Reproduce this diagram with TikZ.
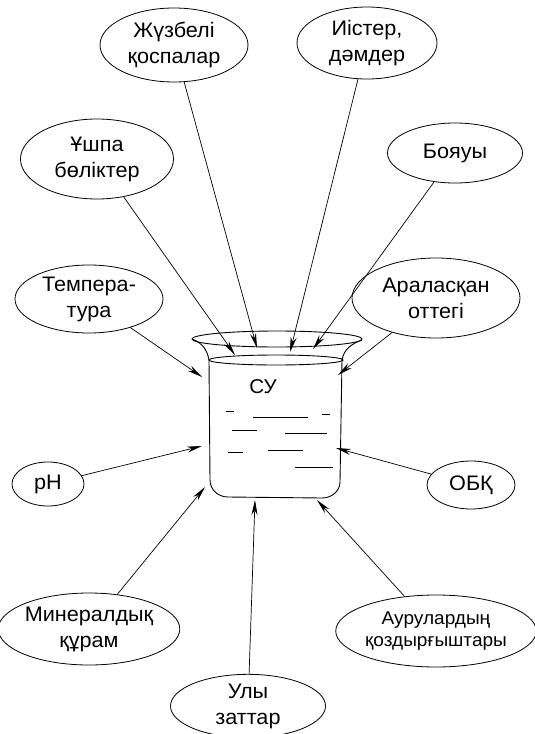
\documentclass[tikz,border=0pt]{standalone}
\usepackage{fontspec}
\setmainfont{Liberation Sans}[FakeStretch=1.03]
\usetikzlibrary{arrows.meta,shapes.geometric}
\tikzset{
  factor/.style={ellipse, draw, line width=0.8pt, inner sep=0pt, align=center, font=\fontsize{21}{26}\selectfont},
  glass/.style={line width=0.9pt},
  wave/.style={line width=1pt},
  arr/.style={-{Stealth[length=15pt,width=6pt]}, line width=0.7pt},
}
\begin{document}
\begin{tikzpicture}[x=1pt,y=-1pt]
  \useasboundingbox (0,0) rectangle (535,734);
  % factors around the beaker
  \node[factor, minimum width=148pt, minimum height=74pt] (juz) at (174,45) {Жүзбелі\\қоспалар};
  \node[factor, minimum width=140pt, minimum height=72pt] (iis) at (367,43) {Иістер,\\дәмдер};
  \node[factor, minimum width=153pt, minimum height=80pt] (ush) at (97,159) {Ұшпа\\бөліктер};
  \node[factor, minimum width=135pt, minimum height=60pt] (boy) at (455,153) {Бояуы};
  \node[factor, minimum width=148pt, minimum height=68pt] (tem) at (89,299) {Темпера-\\тура};
  \node[factor, minimum width=168pt, minimum height=80pt] (ott) at (436,298) {Араласқан\\оттегі};
  \node[factor, minimum width=72pt, minimum height=44pt] (ph) at (48,484) {pH};
  \node[factor, minimum width=88pt, minimum height=48pt] (obk) at (471,485) {ОБҚ};
  \node[factor, minimum width=162pt, minimum height=72pt] (min) at (89,629) {Минералдық\\құрам};
  \node[factor, minimum width=158pt, minimum height=72pt, font=\fontsize{18.5}{22}\selectfont] (aur) at (436,631) {Аурулардың\\қоздырғыштары};
  \node[factor, minimum width=155pt, minimum height=58pt] (uly) at (248,706) {Улы\\заттар};
  % beaker
  \draw[glass] (209,360) -- (210,480) to[out=-90,in=180] (228,497) -- (322,498) to[out=0,in=-90] (340,482) -- (342,360);
  \draw[glass] (277,339) ellipse (85 and 8);
  \draw[glass] (276,360) ellipse (67 and 5);
  \draw[glass] (192,339) to[out=-20,in=100] (209,360);
  \draw[glass] (362,340) to[out=-160,in=80] (342,360);
  \node[font=\fontsize{20}{22}\selectfont] (su) at (263,387) {СУ};
  \foreach \xa/\xb/\y in {226/234/411, 253/308/417, 322/330/414, 232/257/430, 285/327/433, 228/243/452, 268/303/450, 295/333/467}
    \draw[wave] (\xa,\y) -- (\xb,\y);
  % arrow tips on the beaker
  \coordinate (ush-tip) at (235,355);
  \coordinate (juz-tip) at (257,348);
  \coordinate (iis-tip) at (290,352);
  \coordinate (boy-tip) at (313,349);
  \coordinate (tem-tip) at (202,377);
  \coordinate (ott-tip) at (338,375);
  \coordinate (ph-tip) at (202,446);
  \coordinate (obk-tip) at (336,448);
  \coordinate (min-tip) at (205,487);
  \coordinate (uly-tip) at (255,500);
  \coordinate (aur-tip) at (317,500);
  \foreach \n in {ush,juz,iis,boy,tem,ott,ph,obk,min,uly,aur}
    \draw[arr] (\n) -- (\n-tip);
\end{tikzpicture}
\end{document}
